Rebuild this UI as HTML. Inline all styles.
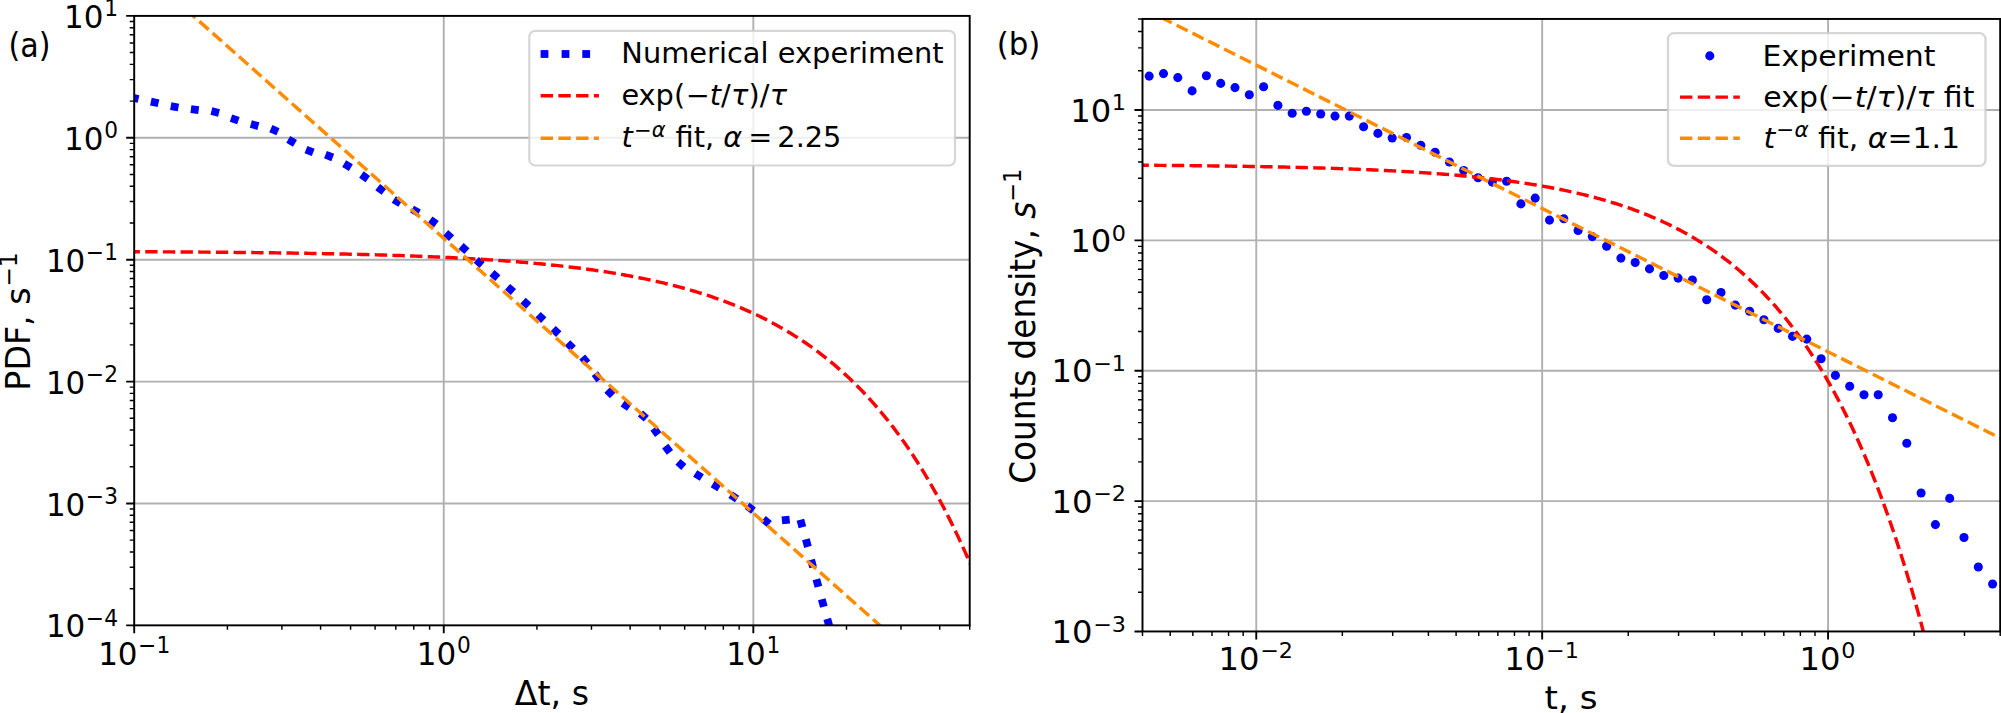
<!DOCTYPE html>
<html lang="en"><head><meta charset="utf-8"><title>Figure</title>
<style>html,body{margin:0;padding:0;background:#fff}svg{display:block}</style></head>
<body>
<svg width="2001" height="713" viewBox="0 0 2001 713" font-family='"DejaVu Sans","Liberation Sans",sans-serif' fill="#000">
<rect width="2001" height="713" fill="#fff"/>
<defs>
<clipPath id="cl"><rect x="134.2" y="15.9" width="835.50" height="609.45"/></clipPath>
<clipPath id="cr"><rect x="1142.5" y="18.95" width="857.70" height="612.50"/></clipPath>
</defs>
<path d="M443.76 15.90V625.35M753.33 15.90V625.35M134.20 503.46H969.70M134.20 381.57H969.70M134.20 259.68H969.70M134.20 137.79H969.70" stroke="#b0b0b0" stroke-width="1.89" fill="none"/>
<g clip-path="url(#cl)">
<rect x="-3.90" y="-3.90" width="7.80" height="7.80" fill="#0000ff" transform="translate(134.7 98.2) rotate(11.9)"/>
<rect x="-3.90" y="-3.90" width="7.80" height="7.80" fill="#0000ff" transform="translate(154.7 102.4) rotate(12.2)"/>
<rect x="-3.90" y="-3.90" width="7.80" height="7.80" fill="#0000ff" transform="translate(174.6 106.8) rotate(10.2)"/>
<rect x="-3.90" y="-3.90" width="7.80" height="7.80" fill="#0000ff" transform="translate(194.8 109.6) rotate(7.3)"/>
<rect x="-3.90" y="-3.90" width="7.80" height="7.80" fill="#0000ff" transform="translate(215.2 112.0) rotate(13.8)"/>
<rect x="-3.90" y="-3.90" width="7.80" height="7.80" fill="#0000ff" transform="translate(234.7 119.4) rotate(18.4)"/>
<rect x="-3.90" y="-3.90" width="7.80" height="7.80" fill="#0000ff" transform="translate(254.6 125.1) rotate(15.2)"/>
<rect x="-3.90" y="-3.90" width="7.80" height="7.80" fill="#0000ff" transform="translate(274.4 130.2) rotate(23.8)"/>
<rect x="-3.90" y="-3.90" width="7.80" height="7.80" fill="#0000ff" transform="translate(291.6 141.4) rotate(30.6)"/>
<rect x="-3.90" y="-3.90" width="7.80" height="7.80" fill="#0000ff" transform="translate(309.6 151.0) rotate(21.4)"/>
<rect x="-3.90" y="-3.90" width="7.80" height="7.80" fill="#0000ff" transform="translate(329.1 156.1) rotate(21.2)"/>
<rect x="-3.90" y="-3.90" width="7.80" height="7.80" fill="#0000ff" transform="translate(347.5 165.7) rotate(30.2)"/>
<rect x="-3.90" y="-3.90" width="7.80" height="7.80" fill="#0000ff" transform="translate(364.6 176.8) rotate(35.4)"/>
<rect x="-3.90" y="-3.90" width="7.80" height="7.80" fill="#0000ff" transform="translate(380.8 189.4) rotate(37.2)"/>
<rect x="-3.90" y="-3.90" width="7.80" height="7.80" fill="#0000ff" transform="translate(397.1 201.5) rotate(32.0)"/>
<rect x="-3.90" y="-3.90" width="7.80" height="7.80" fill="#0000ff" transform="translate(415.5 211.1) rotate(29.4)"/>
<rect x="-3.90" y="-3.90" width="7.80" height="7.80" fill="#0000ff" transform="translate(433.3 221.9) rotate(36.5)"/>
<rect x="-3.90" y="-3.90" width="7.80" height="7.80" fill="#0000ff" transform="translate(448.6 235.6) rotate(41.0)"/>
<rect x="-3.90" y="-3.90" width="7.80" height="7.80" fill="#0000ff" transform="translate(464.0 248.6) rotate(41.2)"/>
<rect x="-3.90" y="-3.90" width="7.80" height="7.80" fill="#0000ff" transform="translate(479.2 262.4) rotate(41.1)"/>
<rect x="-3.90" y="-3.90" width="7.80" height="7.80" fill="#0000ff" transform="translate(494.9 275.6) rotate(40.8)"/>
<rect x="-3.90" y="-3.90" width="7.80" height="7.80" fill="#0000ff" transform="translate(510.5 289.4) rotate(41.7)"/>
<rect x="-3.90" y="-3.90" width="7.80" height="7.80" fill="#0000ff" transform="translate(525.9 303.2) rotate(42.6)"/>
<rect x="-3.90" y="-3.90" width="7.80" height="7.80" fill="#0000ff" transform="translate(540.9 317.4) rotate(43.2)"/>
<rect x="-3.90" y="-3.90" width="7.80" height="7.80" fill="#0000ff" transform="translate(555.9 331.4) rotate(43.9)"/>
<rect x="-3.90" y="-3.90" width="7.80" height="7.80" fill="#0000ff" transform="translate(570.3 345.7) rotate(44.7)"/>
<rect x="-3.90" y="-3.90" width="7.80" height="7.80" fill="#0000ff" transform="translate(584.8 360.0) rotate(49.1)"/>
<rect x="-3.90" y="-3.90" width="7.80" height="7.80" fill="#0000ff" transform="translate(597.2 376.8) rotate(52.6)"/>
<rect x="-3.90" y="-3.90" width="7.80" height="7.80" fill="#0000ff" transform="translate(609.9 392.8) rotate(44.8)"/>
<rect x="-3.90" y="-3.90" width="7.80" height="7.80" fill="#0000ff" transform="translate(626.0 405.4) rotate(34.8)"/>
<rect x="-3.90" y="-3.90" width="7.80" height="7.80" fill="#0000ff" transform="translate(643.4 416.1) rotate(41.1)"/>
<rect x="-3.90" y="-3.90" width="7.80" height="7.80" fill="#0000ff" transform="translate(655.9 431.5) rotate(53.9)"/>
<rect x="-3.90" y="-3.90" width="7.80" height="7.80" fill="#0000ff" transform="translate(667.6 449.3) rotate(52.8)"/>
<rect x="-3.90" y="-3.90" width="7.80" height="7.80" fill="#0000ff" transform="translate(680.9 464.4) rotate(40.3)"/>
<rect x="-3.90" y="-3.90" width="7.80" height="7.80" fill="#0000ff" transform="translate(698.5 475.5) rotate(31.6)"/>
<rect x="-3.90" y="-3.90" width="7.80" height="7.80" fill="#0000ff" transform="translate(716.0 486.0) rotate(31.1)"/>
<rect x="-3.90" y="-3.90" width="7.80" height="7.80" fill="#0000ff" transform="translate(733.8 496.8) rotate(33.0)"/>
<rect x="-3.90" y="-3.90" width="7.80" height="7.80" fill="#0000ff" transform="translate(750.3 508.3) rotate(37.3)"/>
<rect x="-3.90" y="-3.90" width="7.80" height="7.80" fill="#0000ff" transform="translate(766.3 521.6) rotate(40.0)"/>
<rect x="-3.90" y="-3.90" width="7.80" height="7.80" fill="#0000ff" transform="translate(785.8 520.0) rotate(-6.0)"/>
<rect x="-3.90" y="-3.90" width="7.80" height="7.80" fill="#0000ff" transform="translate(801.4 523.5) rotate(-15.0)"/>
<rect x="-3.90" y="-3.90" width="7.80" height="7.80" fill="#0000ff" transform="translate(806.9 543.1) rotate(75.0)"/>
<rect x="-3.90" y="-3.90" width="7.80" height="7.80" fill="#0000ff" transform="translate(812.1 563.5) rotate(75.3)"/>
<rect x="-3.90" y="-3.90" width="7.80" height="7.80" fill="#0000ff" transform="translate(817.4 583.0) rotate(74.8)"/>
<rect x="-3.90" y="-3.90" width="7.80" height="7.80" fill="#0000ff" transform="translate(822.8 603.0) rotate(74.6)"/>
<rect x="-3.90" y="-3.90" width="7.80" height="7.80" fill="#0000ff" transform="translate(828.3 622.6) rotate(74.3)"/>
<path d="M72.29 251.47L74.55 251.48L76.81 251.48L79.06 251.49L81.32 251.50L83.58 251.50L85.84 251.51L88.10 251.52L90.36 251.53L92.62 251.53L94.88 251.54L97.14 251.55L99.40 251.56L101.65 251.57L103.91 251.57L106.17 251.58L108.43 251.59L110.69 251.60L112.95 251.61L115.21 251.62L117.47 251.63L119.73 251.64L121.99 251.65L124.24 251.66L126.50 251.67L128.76 251.67L131.02 251.69L133.28 251.70L135.54 251.71L137.80 251.72L140.06 251.73L142.32 251.74L144.58 251.75L146.83 251.76L149.09 251.77L151.35 251.78L153.61 251.80L155.87 251.81L158.13 251.82L160.39 251.83L162.65 251.85L164.91 251.86L167.17 251.87L169.42 251.89L171.68 251.90L173.94 251.91L176.20 251.93L178.46 251.94L180.72 251.96L182.98 251.97L185.24 251.99L187.50 252.00L189.76 252.02L192.01 252.03L194.27 252.05L196.53 252.07L198.79 252.08L201.05 252.10L203.31 252.12L205.57 252.14L207.83 252.15L210.09 252.17L212.35 252.19L214.61 252.21L216.86 252.23L219.12 252.25L221.38 252.27L223.64 252.29L225.90 252.31L228.16 252.33L230.42 252.35L232.68 252.37L234.94 252.39L237.20 252.42L239.45 252.44L241.71 252.46L243.97 252.49L246.23 252.51L248.49 252.53L250.75 252.56L253.01 252.58L255.27 252.61L257.53 252.64L259.79 252.66L262.04 252.69L264.30 252.72L266.56 252.74L268.82 252.77L271.08 252.80L273.34 252.83L275.60 252.86L277.86 252.89L280.12 252.92L282.38 252.95L284.63 252.98L286.89 253.02L289.15 253.05L291.41 253.08L293.67 253.12L295.93 253.15L298.19 253.19L300.45 253.22L302.71 253.26L304.97 253.29L307.22 253.33L309.48 253.37L311.74 253.41L314.00 253.45L316.26 253.49L318.52 253.53L320.78 253.57L323.04 253.61L325.30 253.66L327.56 253.70L329.81 253.75L332.07 253.79L334.33 253.84L336.59 253.88L338.85 253.93L341.11 253.98L343.37 254.03L345.63 254.08L347.89 254.13L350.15 254.18L352.40 254.23L354.66 254.29L356.92 254.34L359.18 254.40L361.44 254.45L363.70 254.51L365.96 254.57L368.22 254.63L370.48 254.69L372.74 254.75L374.99 254.81L377.25 254.87L379.51 254.94L381.77 255.00L384.03 255.07L386.29 255.14L388.55 255.21L390.81 255.28L393.07 255.35L395.33 255.42L397.58 255.49L399.84 255.57L402.10 255.65L404.36 255.72L406.62 255.80L408.88 255.88L411.14 255.96L413.40 256.05L415.66 256.13L417.92 256.22L420.17 256.30L422.43 256.39L424.69 256.48L426.95 256.57L429.21 256.67L431.47 256.76L433.73 256.86L435.99 256.95L438.25 257.05L440.51 257.16L442.77 257.26L445.02 257.36L447.28 257.47L449.54 257.58L451.80 257.69L454.06 257.80L456.32 257.91L458.58 258.03L460.84 258.15L463.10 258.27L465.36 258.39L467.61 258.51L469.87 258.64L472.13 258.77L474.39 258.90L476.65 259.03L478.91 259.17L481.17 259.30L483.43 259.44L485.69 259.58L487.95 259.73L490.20 259.87L492.46 260.02L494.72 260.17L496.98 260.33L499.24 260.49L501.50 260.65L503.76 260.81L506.02 260.97L508.28 261.14L510.54 261.31L512.79 261.48L515.05 261.66L517.31 261.84L519.57 262.02L521.83 262.21L524.09 262.40L526.35 262.59L528.61 262.78L530.87 262.98L533.13 263.18L535.38 263.39L537.64 263.60L539.90 263.81L542.16 264.02L544.42 264.24L546.68 264.47L548.94 264.69L551.20 264.92L553.46 265.16L555.72 265.40L557.97 265.64L560.23 265.89L562.49 266.14L564.75 266.39L567.01 266.65L569.27 266.92L571.53 267.19L573.79 267.46L576.05 267.74L578.31 268.02L580.56 268.31L582.82 268.60L585.08 268.89L587.34 269.20L589.60 269.50L591.86 269.82L594.12 270.13L596.38 270.46L598.64 270.78L600.90 271.12L603.15 271.46L605.41 271.80L607.67 272.15L609.93 272.51L612.19 272.87L614.45 273.24L616.71 273.62L618.97 274.00L621.23 274.39L623.49 274.79L625.74 275.19L628.00 275.60L630.26 276.01L632.52 276.43L634.78 276.86L637.04 277.30L639.30 277.74L641.56 278.20L643.82 278.66L646.08 279.12L648.33 279.60L650.59 280.08L652.85 280.57L655.11 281.07L657.37 281.58L659.63 282.10L661.89 282.62L664.15 283.16L666.41 283.70L668.67 284.26L670.92 284.82L673.18 285.39L675.44 285.97L677.70 286.56L679.96 287.16L682.22 287.77L684.48 288.40L686.74 289.03L689.00 289.67L691.26 290.33L693.52 290.99L695.77 291.67L698.03 292.36L700.29 293.05L702.55 293.77L704.81 294.49L707.07 295.22L709.33 295.97L711.59 296.73L713.85 297.51L716.11 298.29L718.36 299.09L720.62 299.91L722.88 300.74L725.14 301.58L727.40 302.43L729.66 303.30L731.92 304.19L734.18 305.09L736.44 306.00L738.70 306.93L740.95 307.88L743.21 308.84L745.47 309.82L747.73 310.82L749.99 311.83L752.25 312.86L754.51 313.91L756.77 314.97L759.03 316.05L761.29 317.15L763.54 318.27L765.80 319.41L768.06 320.57L770.32 321.75L772.58 322.94L774.84 324.16L777.10 325.40L779.36 326.66L781.62 327.94L783.88 329.24L786.13 330.57L788.39 331.92L790.65 333.28L792.91 334.68L795.17 336.09L797.43 337.54L799.69 339.00L801.95 340.49L804.21 342.01L806.47 343.55L808.72 345.11L810.98 346.71L813.24 348.33L815.50 349.97L817.76 351.65L820.02 353.35L822.28 355.09L824.54 356.85L826.80 358.64L829.06 360.47L831.31 362.32L833.57 364.20L835.83 366.12L838.09 368.07L840.35 370.05L842.61 372.07L844.87 374.12L847.13 376.20L849.39 378.32L851.65 380.48L853.90 382.67L856.16 384.90L858.42 387.17L860.68 389.48L862.94 391.82L865.20 394.21L867.46 396.63L869.72 399.10L871.98 401.61L874.24 404.16L876.49 406.75L878.75 409.39L881.01 412.07L883.27 414.80L885.53 417.57L887.79 420.40L890.05 423.26L892.31 426.18L894.57 429.15L896.83 432.17L899.08 435.24L901.34 438.36L903.60 441.53L905.86 444.76L908.12 448.04L910.38 451.38L912.64 454.77L914.90 458.22L917.16 461.73L919.42 465.30L921.68 468.93L923.93 472.62L926.19 476.38L928.45 480.19L930.71 484.08L932.97 488.02L935.23 492.04L937.49 496.12L939.75 500.27L942.01 504.50L944.27 508.79L946.52 513.16L948.78 517.60L951.04 522.12L953.30 526.71L955.56 531.38L957.82 536.13L960.08 540.96L962.34 545.87L964.60 550.87L966.86 555.95L969.11 561.11L971.37 566.37L973.63 571.71L975.89 577.14" fill="none" stroke="#ff0000" stroke-width="3.45" stroke-dasharray="12.33 5.33" stroke-dashoffset="15.34" id="lred"/>
<path d="M153.20 -19.60L913.20 654.97" fill="none" stroke="#ff8c00" stroke-width="3.45" stroke-dasharray="12.33 5.33" stroke-dashoffset="8.87" id="lor"/>
</g>
<path d="M134.20 625.35v8.02M443.76 625.35v8.02M753.33 625.35v8.02M134.20 625.35h-8.02M134.20 503.46h-8.02M134.20 381.57h-8.02M134.20 259.68h-8.02M134.20 137.79h-8.02M134.20 15.90h-8.02" stroke="#000" stroke-width="1.89" fill="none"/>
<path d="M227.39 625.35v4.47M281.90 625.35v4.47M320.58 625.35v4.47M350.57 625.35v4.47M375.09 625.35v4.47M395.81 625.35v4.47M413.76 625.35v4.47M429.60 625.35v4.47M536.95 625.35v4.47M591.46 625.35v4.47M630.14 625.35v4.47M660.14 625.35v4.47M684.65 625.35v4.47M705.37 625.35v4.47M723.33 625.35v4.47M739.16 625.35v4.47M846.51 625.35v4.47M901.02 625.35v4.47M939.70 625.35v4.47M969.70 625.35v4.47M134.20 588.66h-4.47M134.20 567.19h-4.47M134.20 551.96h-4.47M134.20 540.15h-4.47M134.20 530.50h-4.47M134.20 522.34h-4.47M134.20 515.27h-4.47M134.20 509.04h-4.47M134.20 466.77h-4.47M134.20 445.30h-4.47M134.20 430.07h-4.47M134.20 418.26h-4.47M134.20 408.61h-4.47M134.20 400.45h-4.47M134.20 393.38h-4.47M134.20 387.15h-4.47M134.20 344.88h-4.47M134.20 323.41h-4.47M134.20 308.18h-4.47M134.20 296.37h-4.47M134.20 286.72h-4.47M134.20 278.56h-4.47M134.20 271.49h-4.47M134.20 265.26h-4.47M134.20 222.99h-4.47M134.20 201.52h-4.47M134.20 186.29h-4.47M134.20 174.48h-4.47M134.20 164.83h-4.47M134.20 156.67h-4.47M134.20 149.60h-4.47M134.20 143.37h-4.47M134.20 101.10h-4.47M134.20 79.63h-4.47M134.20 64.40h-4.47M134.20 52.59h-4.47M134.20 42.94h-4.47M134.20 34.78h-4.47M134.20 27.71h-4.47M134.20 21.48h-4.47" stroke="#000" stroke-width="1.44" fill="none"/>
<rect x="134.20" y="15.90" width="835.50" height="609.45" fill="none" stroke="#000" stroke-width="1.94"/>
<text transform="translate(134.20 665.00) scale(1.0 1.04)" text-anchor="middle" font-size="31.00">10<tspan dx="0.7" dy="-11.15" font-size="21.70">−1</tspan></text>
<text transform="translate(443.76 665.00) scale(1.0 1.04)" text-anchor="middle" font-size="31.00">10<tspan dx="0.7" dy="-11.15" font-size="21.70">0</tspan></text>
<text transform="translate(753.33 665.00) scale(1.0 1.04)" text-anchor="middle" font-size="31.00">10<tspan dx="0.7" dy="-11.15" font-size="21.70">1</tspan></text>
<text transform="translate(118.00 637.45) scale(1.0 1.04)" text-anchor="end" font-size="31.00">10<tspan dx="0.7" dy="-11.15" font-size="21.70">−4</tspan></text>
<text transform="translate(118.00 515.56) scale(1.0 1.04)" text-anchor="end" font-size="31.00">10<tspan dx="0.7" dy="-11.15" font-size="21.70">−3</tspan></text>
<text transform="translate(118.00 393.67) scale(1.0 1.04)" text-anchor="end" font-size="31.00">10<tspan dx="0.7" dy="-11.15" font-size="21.70">−2</tspan></text>
<text transform="translate(118.00 271.78) scale(1.0 1.04)" text-anchor="end" font-size="31.00">10<tspan dx="0.7" dy="-11.15" font-size="21.70">−1</tspan></text>
<text transform="translate(118.00 149.89) scale(1.0 1.04)" text-anchor="end" font-size="31.00">10<tspan dx="0.7" dy="-11.15" font-size="21.70">0</tspan></text>
<text transform="translate(118.00 28.00) scale(1.0 1.04)" text-anchor="end" font-size="31.00">10<tspan dx="0.7" dy="-11.15" font-size="21.70">1</tspan></text>
<text transform="translate(8.55 57.20) scale(1.0 1.095)" text-anchor="start" font-size="30.15">(a)</text>
<text transform="translate(29.80 321.60) rotate(-90) scale(1.0 1.04)" text-anchor="middle" font-size="33.21">PDF, s<tspan dx="0.7" dy="-12.50" font-size="23.25">−1</tspan></text>
<text transform="translate(551.90 705.20) scale(1.0 1.02)" text-anchor="middle" font-size="33.21">Δt, s</text>
<rect x="529.3" y="30.8" width="425.7" height="134.7" rx="6" ry="6" fill="#fff" fill-opacity="0.8" stroke="#cccccc" stroke-opacity="0.8" stroke-width="2.2"/>
<rect x="540.6" y="50.1" width="7.8" height="7.8" fill="#0000ff"/>
<rect x="561.6" y="50.1" width="7.8" height="7.8" fill="#0000ff"/>
<rect x="582.3" y="50.1" width="7.8" height="7.8" fill="#0000ff"/>
<path d="M540.6 95.7H598.9" stroke="#ff0000" stroke-width="3.45" stroke-dasharray="12.40 5.36"/>
<path d="M540.6 138.2H598.9" stroke="#ff8c00" stroke-width="3.45" stroke-dasharray="12.40 5.36"/>
<text transform="translate(621.30 63.10) scale(1.0 0.97)" text-anchor="start" font-size="28.87">Numerical experiment</text>
<text transform="translate(621.40 105.20) scale(1.0 0.97)" text-anchor="start" font-size="28.78">exp(<tspan dx="0.6">−</tspan><tspan font-style="italic">t</tspan>/<tspan font-style="italic" dx="0.3">τ</tspan>)/<tspan font-style="italic" dx="0.4">τ</tspan></text>
<text transform="translate(621.60 147.20) scale(1.0 0.97)" text-anchor="start" font-size="28.78"><tspan font-style="italic">t</tspan><tspan dx="1.2" dy="-10.82" font-size="21.01">−<tspan font-style="italic">α</tspan></tspan><tspan dx="0.9" dy="10.82"> fit, </tspan><tspan font-style="italic">α</tspan><tspan dx="6.0">=</tspan><tspan dx="5.0">2.25</tspan></text>
<path d="M1256.27 18.95V631.45M1542.17 18.95V631.45M1828.07 18.95V631.45M1142.50 501.10H2000.20M1142.50 370.75H2000.20M1142.50 240.41H2000.20M1142.50 110.06H2000.20" stroke="#b0b0b0" stroke-width="1.89" fill="none"/>
<g clip-path="url(#cr)">
<circle cx="1149.2" cy="76.1" r="4.55" fill="#0000ff"/>
<circle cx="1163.5" cy="73.6" r="4.55" fill="#0000ff"/>
<circle cx="1177.8" cy="77.6" r="4.55" fill="#0000ff"/>
<circle cx="1192.1" cy="90.9" r="4.55" fill="#0000ff"/>
<circle cx="1206.4" cy="75.8" r="4.55" fill="#0000ff"/>
<circle cx="1220.7" cy="83.4" r="4.55" fill="#0000ff"/>
<circle cx="1235.0" cy="87.6" r="4.55" fill="#0000ff"/>
<circle cx="1249.3" cy="94.8" r="4.55" fill="#0000ff"/>
<circle cx="1263.6" cy="86.7" r="4.55" fill="#0000ff"/>
<circle cx="1277.9" cy="105.4" r="4.55" fill="#0000ff"/>
<circle cx="1292.2" cy="113.3" r="4.55" fill="#0000ff"/>
<circle cx="1306.4" cy="111.3" r="4.55" fill="#0000ff"/>
<circle cx="1320.7" cy="114.0" r="4.55" fill="#0000ff"/>
<circle cx="1335.0" cy="116.1" r="4.55" fill="#0000ff"/>
<circle cx="1349.3" cy="116.1" r="4.55" fill="#0000ff"/>
<circle cx="1363.6" cy="126.7" r="4.55" fill="#0000ff"/>
<circle cx="1377.9" cy="133.4" r="4.55" fill="#0000ff"/>
<circle cx="1392.2" cy="138.0" r="4.55" fill="#0000ff"/>
<circle cx="1406.5" cy="137.5" r="4.55" fill="#0000ff"/>
<circle cx="1420.8" cy="145.2" r="4.55" fill="#0000ff"/>
<circle cx="1435.1" cy="152.3" r="4.55" fill="#0000ff"/>
<circle cx="1449.4" cy="162.0" r="4.55" fill="#0000ff"/>
<circle cx="1463.7" cy="170.5" r="4.55" fill="#0000ff"/>
<circle cx="1478.0" cy="177.8" r="4.55" fill="#0000ff"/>
<circle cx="1492.3" cy="182.1" r="4.55" fill="#0000ff"/>
<circle cx="1506.6" cy="181.3" r="4.55" fill="#0000ff"/>
<circle cx="1520.9" cy="203.9" r="4.55" fill="#0000ff"/>
<circle cx="1535.2" cy="198.1" r="4.55" fill="#0000ff"/>
<circle cx="1549.5" cy="220.1" r="4.55" fill="#0000ff"/>
<circle cx="1563.8" cy="218.7" r="4.55" fill="#0000ff"/>
<circle cx="1578.1" cy="230.5" r="4.55" fill="#0000ff"/>
<circle cx="1592.3" cy="236.6" r="4.55" fill="#0000ff"/>
<circle cx="1606.6" cy="246.2" r="4.55" fill="#0000ff"/>
<circle cx="1620.9" cy="258.1" r="4.55" fill="#0000ff"/>
<circle cx="1635.2" cy="262.5" r="4.55" fill="#0000ff"/>
<circle cx="1649.5" cy="268.9" r="4.55" fill="#0000ff"/>
<circle cx="1663.8" cy="275.5" r="4.55" fill="#0000ff"/>
<circle cx="1678.1" cy="278.1" r="4.55" fill="#0000ff"/>
<circle cx="1692.4" cy="280.0" r="4.55" fill="#0000ff"/>
<circle cx="1706.7" cy="299.8" r="4.55" fill="#0000ff"/>
<circle cx="1721.0" cy="292.5" r="4.55" fill="#0000ff"/>
<circle cx="1735.3" cy="305.1" r="4.55" fill="#0000ff"/>
<circle cx="1749.6" cy="311.2" r="4.55" fill="#0000ff"/>
<circle cx="1763.9" cy="319.8" r="4.55" fill="#0000ff"/>
<circle cx="1778.2" cy="328.4" r="4.55" fill="#0000ff"/>
<circle cx="1792.5" cy="336.4" r="4.55" fill="#0000ff"/>
<circle cx="1806.8" cy="339.1" r="4.55" fill="#0000ff"/>
<circle cx="1821.1" cy="358.7" r="4.55" fill="#0000ff"/>
<circle cx="1835.4" cy="375.4" r="4.55" fill="#0000ff"/>
<circle cx="1849.7" cy="386.2" r="4.55" fill="#0000ff"/>
<circle cx="1864.0" cy="394.8" r="4.55" fill="#0000ff"/>
<circle cx="1878.2" cy="394.8" r="4.55" fill="#0000ff"/>
<circle cx="1892.5" cy="417.7" r="4.55" fill="#0000ff"/>
<circle cx="1906.8" cy="443.2" r="4.55" fill="#0000ff"/>
<circle cx="1921.1" cy="493.0" r="4.55" fill="#0000ff"/>
<circle cx="1935.4" cy="524.6" r="4.55" fill="#0000ff"/>
<circle cx="1949.7" cy="498.4" r="4.55" fill="#0000ff"/>
<circle cx="1964.0" cy="537.5" r="4.55" fill="#0000ff"/>
<circle cx="1978.3" cy="567.0" r="4.55" fill="#0000ff"/>
<circle cx="1992.6" cy="584.0" r="4.55" fill="#0000ff"/>
<path d="M1113.91 165.06L1116.13 165.07L1118.34 165.08L1120.56 165.09L1122.77 165.11L1124.99 165.12L1127.20 165.13L1129.42 165.15L1131.64 165.16L1133.85 165.18L1136.07 165.19L1138.28 165.21L1140.50 165.22L1142.71 165.24L1144.93 165.25L1147.15 165.27L1149.36 165.28L1151.58 165.30L1153.79 165.32L1156.01 165.33L1158.22 165.35L1160.44 165.37L1162.66 165.39L1164.87 165.41L1167.09 165.42L1169.30 165.44L1171.52 165.46L1173.73 165.48L1175.95 165.50L1178.17 165.52L1180.38 165.54L1182.60 165.57L1184.81 165.59L1187.03 165.61L1189.24 165.63L1191.46 165.65L1193.68 165.68L1195.89 165.70L1198.11 165.72L1200.32 165.75L1202.54 165.77L1204.75 165.80L1206.97 165.83L1209.19 165.85L1211.40 165.88L1213.62 165.91L1215.83 165.93L1218.05 165.96L1220.26 165.99L1222.48 166.02L1224.70 166.05L1226.91 166.08L1229.13 166.11L1231.34 166.14L1233.56 166.17L1235.77 166.21L1237.99 166.24L1240.21 166.27L1242.42 166.31L1244.64 166.34L1246.85 166.38L1249.07 166.41L1251.28 166.45L1253.50 166.49L1255.72 166.53L1257.93 166.57L1260.15 166.61L1262.36 166.65L1264.58 166.69L1266.80 166.73L1269.01 166.77L1271.23 166.81L1273.44 166.86L1275.66 166.90L1277.87 166.95L1280.09 166.99L1282.31 167.04L1284.52 167.09L1286.74 167.14L1288.95 167.19L1291.17 167.24L1293.38 167.29L1295.60 167.34L1297.82 167.40L1300.03 167.45L1302.25 167.51L1304.46 167.56L1306.68 167.62L1308.89 167.68L1311.11 167.74L1313.33 167.80L1315.54 167.86L1317.76 167.93L1319.97 167.99L1322.19 168.06L1324.40 168.12L1326.62 168.19L1328.84 168.26L1331.05 168.33L1333.27 168.40L1335.48 168.47L1337.70 168.55L1339.91 168.62L1342.13 168.70L1344.35 168.78L1346.56 168.86L1348.78 168.94L1350.99 169.02L1353.21 169.10L1355.42 169.19L1357.64 169.27L1359.86 169.36L1362.07 169.45L1364.29 169.54L1366.50 169.64L1368.72 169.73L1370.93 169.83L1373.15 169.93L1375.37 170.03L1377.58 170.13L1379.80 170.23L1382.01 170.34L1384.23 170.45L1386.44 170.56L1388.66 170.67L1390.88 170.78L1393.09 170.90L1395.31 171.01L1397.52 171.13L1399.74 171.25L1401.95 171.38L1404.17 171.50L1406.39 171.63L1408.60 171.76L1410.82 171.90L1413.03 172.03L1415.25 172.17L1417.46 172.31L1419.68 172.45L1421.90 172.60L1424.11 172.75L1426.33 172.90L1428.54 173.05L1430.76 173.21L1432.97 173.37L1435.19 173.53L1437.41 173.70L1439.62 173.86L1441.84 174.03L1444.05 174.21L1446.27 174.39L1448.48 174.57L1450.70 174.75L1452.92 174.94L1455.13 175.13L1457.35 175.32L1459.56 175.52L1461.78 175.72L1463.99 175.92L1466.21 176.13L1468.43 176.34L1470.64 176.56L1472.86 176.78L1475.07 177.00L1477.29 177.23L1479.50 177.46L1481.72 177.70L1483.94 177.94L1486.15 178.18L1488.37 178.43L1490.58 178.68L1492.80 178.94L1495.01 179.20L1497.23 179.47L1499.45 179.74L1501.66 180.02L1503.88 180.30L1506.09 180.59L1508.31 180.88L1510.52 181.18L1512.74 181.48L1514.96 181.79L1517.17 182.10L1519.39 182.42L1521.60 182.75L1523.82 183.08L1526.03 183.41L1528.25 183.76L1530.47 184.11L1532.68 184.46L1534.90 184.82L1537.11 185.19L1539.33 185.57L1541.54 185.95L1543.76 186.34L1545.98 186.73L1548.19 187.13L1550.41 187.54L1552.62 187.96L1554.84 188.39L1557.06 188.82L1559.27 189.26L1561.49 189.71L1563.70 190.16L1565.92 190.63L1568.13 191.10L1570.35 191.58L1572.57 192.07L1574.78 192.57L1577.00 193.08L1579.21 193.60L1581.43 194.12L1583.64 194.66L1585.86 195.20L1588.08 195.76L1590.29 196.32L1592.51 196.90L1594.72 197.48L1596.94 198.08L1599.15 198.69L1601.37 199.31L1603.59 199.94L1605.80 200.58L1608.02 201.23L1610.23 201.89L1612.45 202.57L1614.66 203.25L1616.88 203.95L1619.10 204.67L1621.31 205.39L1623.53 206.13L1625.74 206.88L1627.96 207.65L1630.17 208.43L1632.39 209.22L1634.61 210.03L1636.82 210.85L1639.04 211.69L1641.25 212.54L1643.47 213.41L1645.68 214.29L1647.90 215.19L1650.12 216.10L1652.33 217.04L1654.55 217.98L1656.76 218.95L1658.98 219.93L1661.19 220.93L1663.41 221.95L1665.63 222.99L1667.84 224.04L1670.06 225.12L1672.27 226.21L1674.49 227.33L1676.70 228.46L1678.92 229.61L1681.14 230.79L1683.35 231.98L1685.57 233.20L1687.78 234.44L1690.00 235.70L1692.21 236.99L1694.43 238.29L1696.65 239.63L1698.86 240.98L1701.08 242.36L1703.29 243.76L1705.51 245.19L1707.72 246.65L1709.94 248.13L1712.16 249.64L1714.37 251.17L1716.59 252.74L1718.80 254.33L1721.02 255.95L1723.23 257.60L1725.45 259.28L1727.67 260.99L1729.88 262.72L1732.10 264.50L1734.31 266.30L1736.53 268.13L1738.74 270.00L1740.96 271.90L1743.18 273.84L1745.39 275.81L1747.61 277.82L1749.82 279.86L1752.04 281.94L1754.25 284.06L1756.47 286.21L1758.69 288.41L1760.90 290.64L1763.12 292.91L1765.33 295.23L1767.55 297.58L1769.76 299.98L1771.98 302.42L1774.20 304.91L1776.41 307.44L1778.63 310.02L1780.84 312.64L1783.06 315.31L1785.27 318.03L1787.49 320.79L1789.71 323.61L1791.92 326.48L1794.14 329.40L1796.35 332.37L1798.57 335.39L1800.78 338.47L1803.00 341.61L1805.22 344.80L1807.43 348.05L1809.65 351.35L1811.86 354.72L1814.08 358.15L1816.29 361.64L1818.51 365.19L1820.73 368.80L1822.94 372.48L1825.16 376.23L1827.37 380.05L1829.59 383.93L1831.80 387.88L1834.02 391.91L1836.24 396.00L1838.45 400.17L1840.67 404.42L1842.88 408.74L1845.10 413.14L1847.31 417.62L1849.53 422.18L1851.75 426.82L1853.96 431.55L1856.18 436.36L1858.39 441.26L1860.61 446.24L1862.83 451.32L1865.04 456.48L1867.26 461.74L1869.47 467.10L1871.69 472.55L1873.90 478.10L1876.12 483.75L1878.34 489.50L1880.55 495.35L1882.77 501.31L1884.98 507.38L1887.20 513.55L1889.41 519.84L1891.63 526.24L1893.85 532.76L1896.06 539.39L1898.28 546.14L1900.49 553.02L1902.71 560.01L1904.92 567.14L1907.14 574.39L1909.36 581.77L1911.57 589.29L1913.79 596.94L1916.00 604.73L1918.22 612.66L1920.43 620.73L1922.65 628.94L1924.87 637.31L1927.08 645.82L1929.30 654.49L1931.51 663.32L1933.73 672.30L1935.94 681.45L1938.16 690.76L1940.38 700.23L1942.59 709.88L1944.81 719.71L1947.02 729.70L1949.24 739.88L1951.45 750.25L1953.67 760.79" fill="none" stroke="#ff0000" stroke-width="3.45" stroke-dasharray="12.34 5.33" stroke-dashoffset="12.72" id="rred"/>
<path d="M1108.10 -9.14L2028.10 452.06" fill="none" stroke="#ff8c00" stroke-width="3.45" stroke-dasharray="12.36 5.34" stroke-dashoffset="11.87" id="ror"/>
</g>
<path d="M1256.27 631.45v8.02M1542.17 631.45v8.02M1828.07 631.45v8.02M1142.50 631.45h-8.02M1142.50 501.10h-8.02M1142.50 370.75h-8.02M1142.50 240.41h-8.02M1142.50 110.06h-8.02" stroke="#000" stroke-width="1.89" fill="none"/>
<path d="M1142.50 631.45v4.47M1170.21 631.45v4.47M1192.84 631.45v4.47M1211.98 631.45v4.47M1228.56 631.45v4.47M1243.19 631.45v4.47M1342.34 631.45v4.47M1392.68 631.45v4.47M1428.40 631.45v4.47M1456.11 631.45v4.47M1478.74 631.45v4.47M1497.88 631.45v4.47M1514.46 631.45v4.47M1529.09 631.45v4.47M1628.24 631.45v4.47M1678.58 631.45v4.47M1714.30 631.45v4.47M1742.01 631.45v4.47M1764.64 631.45v4.47M1783.78 631.45v4.47M1800.36 631.45v4.47M1814.99 631.45v4.47M1914.14 631.45v4.47M1964.48 631.45v4.47M2000.20 631.45v4.47M1142.50 592.21h-4.47M1142.50 569.26h-4.47M1142.50 552.97h-4.47M1142.50 540.34h-4.47M1142.50 530.02h-4.47M1142.50 521.29h-4.47M1142.50 513.73h-4.47M1142.50 507.07h-4.47M1142.50 461.86h-4.47M1142.50 438.91h-4.47M1142.50 422.63h-4.47M1142.50 409.99h-4.47M1142.50 399.67h-4.47M1142.50 390.95h-4.47M1142.50 383.39h-4.47M1142.50 376.72h-4.47M1142.50 331.52h-4.47M1142.50 308.56h-4.47M1142.50 292.28h-4.47M1142.50 279.65h-4.47M1142.50 269.32h-4.47M1142.50 260.60h-4.47M1142.50 253.04h-4.47M1142.50 246.37h-4.47M1142.50 201.17h-4.47M1142.50 178.22h-4.47M1142.50 161.93h-4.47M1142.50 149.30h-4.47M1142.50 138.98h-4.47M1142.50 130.25h-4.47M1142.50 122.69h-4.47M1142.50 116.02h-4.47M1142.50 70.82h-4.47M1142.50 47.87h-4.47M1142.50 31.58h-4.47M1142.50 18.95h-4.47" stroke="#000" stroke-width="1.44" fill="none"/>
<rect x="1142.50" y="18.95" width="857.70" height="612.50" fill="none" stroke="#000" stroke-width="1.94"/>
<text transform="translate(1255.67 669.90) scale(1.0 0.985)" text-anchor="middle" font-size="32.24">10<tspan dx="0.7" dy="-11.78" font-size="22.25">−2</tspan></text>
<text transform="translate(1541.57 669.90) scale(1.0 0.985)" text-anchor="middle" font-size="32.24">10<tspan dx="0.7" dy="-11.78" font-size="22.25">−1</tspan></text>
<text transform="translate(1827.47 669.90) scale(1.0 0.985)" text-anchor="middle" font-size="32.24">10<tspan dx="0.7" dy="-11.78" font-size="22.25">0</tspan></text>
<text transform="translate(1126.00 643.15) scale(1.0 0.985)" text-anchor="end" font-size="32.24">10<tspan dx="0.7" dy="-11.78" font-size="22.25">−3</tspan></text>
<text transform="translate(1126.00 512.80) scale(1.0 0.985)" text-anchor="end" font-size="32.24">10<tspan dx="0.7" dy="-11.78" font-size="22.25">−2</tspan></text>
<text transform="translate(1126.00 382.45) scale(1.0 0.985)" text-anchor="end" font-size="32.24">10<tspan dx="0.7" dy="-11.78" font-size="22.25">−1</tspan></text>
<text transform="translate(1126.00 252.11) scale(1.0 0.985)" text-anchor="end" font-size="32.24">10<tspan dx="0.7" dy="-11.78" font-size="22.25">0</tspan></text>
<text transform="translate(1126.00 121.76) scale(1.0 0.985)" text-anchor="end" font-size="32.24">10<tspan dx="0.7" dy="-11.78" font-size="22.25">1</tspan></text>
<text transform="translate(996.70 54.60) scale(1.0 1.06)" text-anchor="start" font-size="30.90">(b)</text>
<text transform="translate(1035.30 326.30) rotate(-90) scale(1.0 1.09)" text-anchor="middle" font-size="32.70">Counts density, <tspan font-style="italic">s</tspan><tspan dy="-13" font-size="22.4">−1</tspan></text>
<text transform="translate(1571.00 709.20) scale(1.0 0.95)" text-anchor="middle" font-size="34.20">t, s</text>
<rect x="1668" y="33.2" width="317.5" height="132.7" rx="6" ry="6" fill="#fff" fill-opacity="0.8" stroke="#cccccc" stroke-opacity="0.8" stroke-width="2.3"/>
<circle cx="1709.8" cy="55.9" r="4.55" fill="#0000ff"/>
<path d="M1680.0 97.1H1739.8" stroke="#ff0000" stroke-width="3.45" stroke-dasharray="12.40 5.36"/>
<path d="M1680.0 138.3H1739.8" stroke="#ff8c00" stroke-width="3.45" stroke-dasharray="12.40 5.36"/>
<text transform="translate(1762.60 66.00) scale(1.0 0.97)" text-anchor="start" font-size="29.94">Experiment</text>
<text transform="translate(1763.30 106.80) scale(1.0 0.97)" text-anchor="start" font-size="29.94">exp(−<tspan font-style="italic">t</tspan>/<tspan font-style="italic">τ</tspan>)/<tspan font-style="italic">τ</tspan> fit</text>
<text transform="translate(1763.40 147.90) scale(1.0 0.97)" text-anchor="start" font-size="29.94"><tspan font-style="italic">t</tspan><tspan dx="1.2" dy="-11.13" font-size="21.56">−<tspan font-style="italic">α</tspan></tspan><tspan dy="11.13"> fit, </tspan><tspan font-style="italic">α</tspan>=1.1</text>
</svg>
</body></html>
